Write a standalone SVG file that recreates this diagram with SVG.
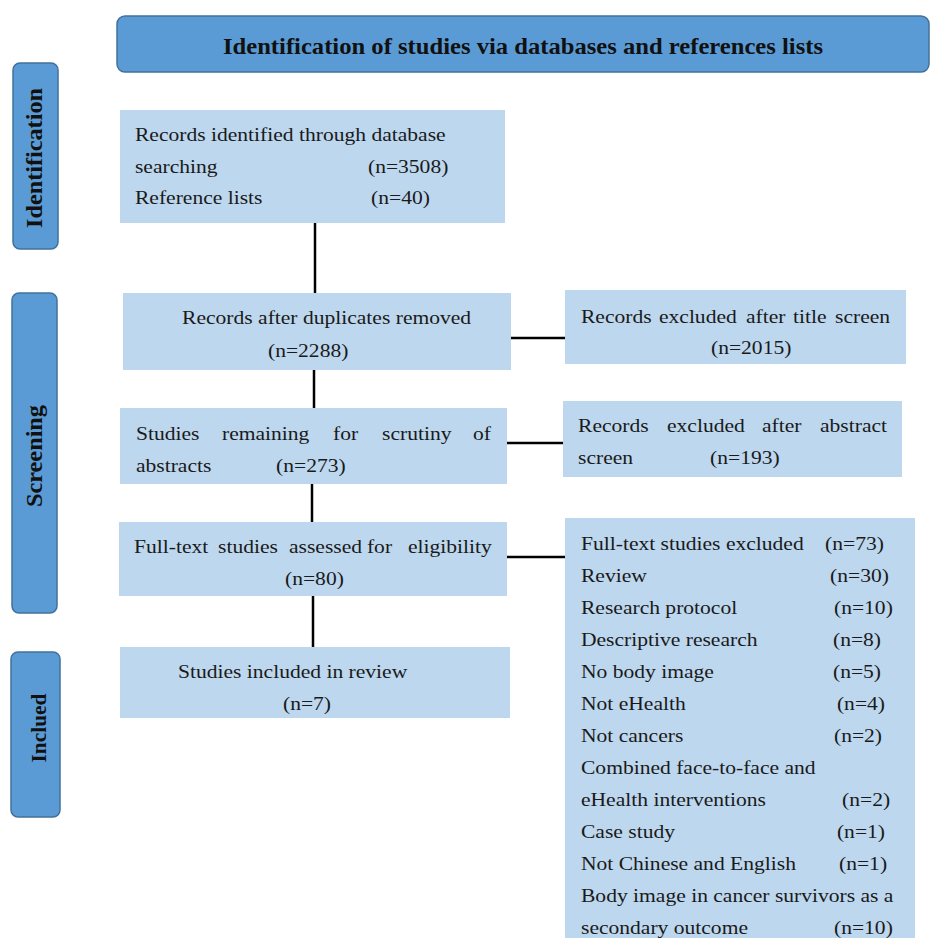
<svg xmlns="http://www.w3.org/2000/svg" width="930" height="938" viewBox="0 0 930 938">
<style>
.hdr{fill:#5b9bd5;stroke:#41719c;stroke-width:1.5}
.box{fill:#bdd7ee}
.t{font-family:"Liberation Serif","Times New Roman",serif;font-size:19px;fill:#1a1a1a}
.tb{font-family:"Liberation Serif","Times New Roman",serif;font-weight:bold;fill:#111}
.ln{stroke:#000;stroke-width:2.5;fill:none}
</style>
<rect width="930" height="938" fill="#fff"/>
<g id="header">
<rect class="hdr" x="117" y="16" width="812" height="56" rx="8"/>
<text class="tb" x="223" y="54" font-size="24" textLength="600" lengthAdjust="spacingAndGlyphs">Identification of studies via databases and references lists</text>
</g>
<g id="stage-identification">
<rect class="hdr" x="13" y="63" width="45" height="186" rx="7"/>
<text class="tb" font-size="23" transform="translate(42 158) rotate(-90)" text-anchor="middle" textLength="140" lengthAdjust="spacingAndGlyphs">Identification</text>
</g>
<g id="stage-screening">
<rect class="hdr" x="12" y="293" width="45" height="320" rx="7"/>
<text class="tb" font-size="23" transform="translate(42 456) rotate(-90)" text-anchor="middle" textLength="102" lengthAdjust="spacingAndGlyphs">Screening</text>
</g>
<g id="stage-included">
<rect class="hdr" x="11" y="652" width="49" height="165" rx="7"/>
<text class="tb" font-size="22" transform="translate(46 728) rotate(-90)" text-anchor="middle" textLength="69" lengthAdjust="spacingAndGlyphs">Inclued</text>
</g>
<g id="connectors">
<line class="ln" x1="315" y1="223" x2="315" y2="293"/>
<line class="ln" x1="314" y1="370" x2="314" y2="408"/>
<line class="ln" x1="312" y1="484" x2="312" y2="522"/>
<line class="ln" x1="313" y1="596" x2="313" y2="647"/>
<line class="ln" x1="511" y1="338" x2="566" y2="338"/>
<line class="ln" x1="507" y1="443" x2="563" y2="443"/>
<line class="ln" x1="507" y1="557" x2="565" y2="557"/>
</g>
<g id="records-identified">
<rect class="box" x="120" y="110" width="385" height="113"/>
<g class="t" transform="scale(1.135 1)">
<text x="118.9" y="141">Records identified through database</text>
<text x="118.9" y="173">searching</text>
<text x="324.2" y="173">(n=3508)</text>
<text x="118.9" y="204">Reference lists</text>
<text x="326.9" y="204">(n=40)</text>
</g>
</g>
<g id="after-duplicates">
<rect class="box" x="123" y="293" width="388" height="77"/>
<g class="t" transform="scale(1.135 1)">
<text x="160.4" y="324">Records after duplicates removed</text>
<text x="236.1" y="357">(n=2288)</text>
</g>
</g>
<g id="scrutiny-abstracts">
<rect class="box" x="120" y="408" width="387" height="76"/>
<g class="t" transform="scale(1.135 1)">
<text y="440"><tspan x="119.8">Studies</tspan><tspan x="195.6">remaining</tspan><tspan x="293.4">for</tspan><tspan x="336.6">scrutiny</tspan><tspan x="416.7">of</tspan></text>
<text x="119.8" y="472">abstracts</text>
<text x="243.2" y="472">(n=273)</text>
</g>
</g>
<g id="full-text-assessed">
<rect class="box" x="119" y="522" width="388" height="74"/>
<g class="t" transform="scale(1.135 1)">
<text y="553"><tspan x="118.1">Full-text</tspan><tspan x="192.1">studies</tspan><tspan x="254.6">assessed</tspan><tspan x="323.3">for</tspan><tspan x="359.5">eligibility</tspan></text>
<text x="251.1" y="585">(n=80)</text>
</g>
</g>
<g id="included-review">
<rect class="box" x="120" y="647" width="390" height="71"/>
<g class="t" transform="scale(1.135 1)">
<text x="156.8" y="678">Studies included in review</text>
<text x="249.3" y="710">(n=7)</text>
</g>
</g>
<g id="excluded-title">
<rect class="box" x="565" y="290" width="341" height="74"/>
<g class="t" transform="scale(1.135 1)">
<text y="323"><tspan x="511.9">Records</tspan><tspan x="580.6">excluded</tspan><tspan x="657.3">after</tspan><tspan x="698.7">title</tspan><tspan x="735.7">screen</tspan></text>
<text x="626.4" y="354">(n=2015)</text>
</g>
</g>
<g id="excluded-abstract">
<rect class="box" x="563" y="401" width="339" height="76"/>
<g class="t" transform="scale(1.135 1)">
<text y="432"><tspan x="509.3">Records</tspan><tspan x="587.7">excluded</tspan><tspan x="671.4">after</tspan><tspan x="722.5">abstract</tspan></text>
<text x="509.3" y="464">screen</text>
<text x="625.6" y="464">(n=193)</text>
</g>
</g>
<g id="full-text-excluded">
<rect class="box" x="565" y="518" width="350" height="425"/>
<g class="t" transform="scale(1.135 1)">
<text x="511.9" y="550">Full-text studies excluded</text><text x="726.9" y="550">(n=73)</text>
<text x="511.9" y="582">Review</text><text x="731.3" y="582">(n=30)</text>
<text x="511.9" y="614">Research protocol</text><text x="734.8" y="614">(n=10)</text>
<text x="511.9" y="646">Descriptive research</text><text x="733.9" y="646">(n=8)</text>
<text x="511.9" y="678">No body image</text><text x="733.9" y="678">(n=5)</text>
<text x="511.9" y="710">Not eHealth</text><text x="737.4" y="710">(n=4)</text>
<text x="511.9" y="742">Not cancers</text><text x="734.8" y="742">(n=2)</text>
<text x="511.9" y="774">Combined face-to-face and</text>
<text x="511.9" y="806">eHealth interventions</text><text x="741.9" y="806">(n=2)</text>
<text x="511.9" y="838">Case study</text><text x="737.4" y="838">(n=1)</text>
<text x="511.9" y="870">Not Chinese and English</text><text x="739.2" y="870">(n=1)</text>
<text x="511.9" y="902">Body image in cancer survivors as a</text>
<text x="511.9" y="934">secondary outcome</text><text x="734.8" y="934">(n=10)</text>
</g>
</g>
</svg>
